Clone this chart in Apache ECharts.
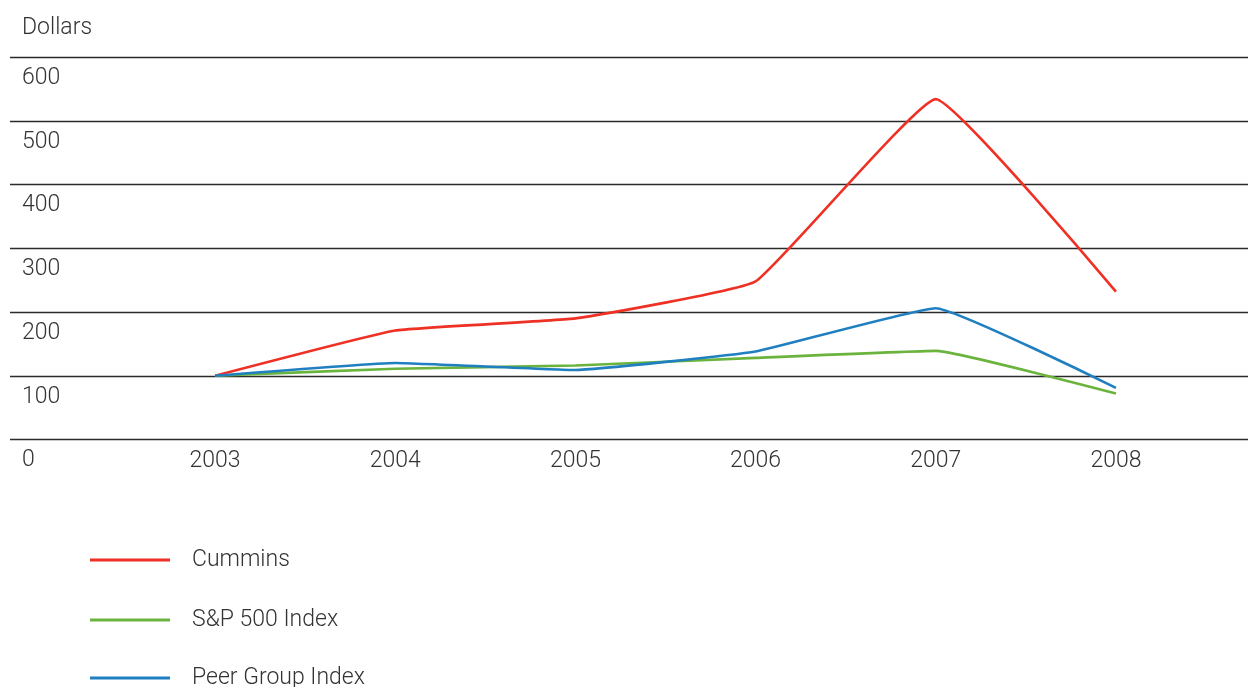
<!DOCTYPE html>
<html>
<head>
<meta charset="utf-8">
<script src="https://cdn.jsdelivr.net/npm/echarts@6/dist/echarts.min.js"></script>
<style>
html,body{margin:0;padding:0;background:#fff;}
#chart{width:1248px;height:687px;}
</style>
</head>
<body>
<div id="chart"></div>
<script>
const years = [2003, 2004, 2005, 2006, 2007, 2008];
const cummins = [100, 171, 190, 248, 534, 232];
const sp500 = [100, 111, 116, 128, 139, 72];
const peerGroup = [100, 120, 109, 138, 206, 81];
const seriesNames = ['Cummins', 'S&P 500 Index', 'Peer Group Index'];
const seriesColors = ['#ee3124', '#6ab43e', '#1f7fc1'];
const seriesValues = [cummins, sp500, peerGroup];

const FONT = 'Roboto';
const TXT = '#333333';
const FS = 23;
function pairs(vals){ return years.map((y,i)=>[y, vals[i]]); }

const legendTops = [543, 603, 661];

const chart = echarts.init(document.getElementById('chart'));
chart.setOption({
  animation: false,
  backgroundColor: '#ffffff',
  title: {
    text: 'Dollars', left: 17, top: 12,
    textStyle: {fontFamily: FONT, fontWeight: 300, fontSize: FS, color: TXT}
  },
  grid: {left: 10, right: 0, top: 57, bottom: 247.5},
  legend: seriesNames.map((n, i) => ({
    orient: 'vertical', left: 85, top: legendTops[i],
    itemWidth: 80, itemHeight: 3, icon: 'rect',
    textStyle: {fontFamily: FONT, fontWeight: 300, fontSize: FS, color: TXT, lineHeight: 24, padding: [0,0,0,17]},
    data: [n]
  })),
  xAxis: {
    type: 'value', min: 2001.862, max: 2008.733,
    axisLine: {show: false}, axisTick: {show: false}, splitLine: {show: false},
    axisLabel: {
      customValues: years, margin: 10,
      fontFamily: FONT, fontWeight: 300, fontSize: FS, color: TXT,
      formatter: v => String(v)
    }
  },
  yAxis: {
    type: 'value', min: 0, max: 600, interval: 100,
    axisLine: {show: false}, axisTick: {show: false},
    splitLine: {lineStyle: {color: '#2a2a2a', width: 1.3}},
    axisLabel: {
      inside: true, margin: 12, align: 'left', verticalAlign: 'top', lineHeight: 42,
      fontFamily: FONT, fontWeight: 300, fontSize: FS, color: TXT
    }
  },
  series: seriesNames.map((n, i) => ({
    name: n, type: 'line', data: pairs(seriesValues[i]), smooth: 0.1,
    showSymbol: false, symbol: 'none',
    color: seriesColors[i], lineStyle: {width: 2.6, color: seriesColors[i]}
  }))
});
</script>
</body>
</html>
